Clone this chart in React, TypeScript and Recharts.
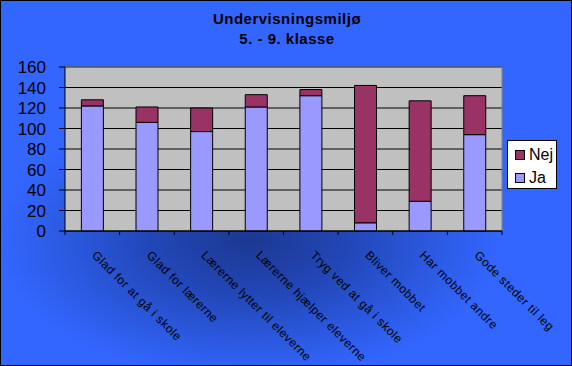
import React from 'react';
import { BarChart, Bar, XAxis, YAxis, CartesianGrid, Legend } from 'recharts';

const categories = [
  'Glad for at gå i skole',
  'Glad for lærerne',
  'Lærerne lytter til eleverne',
  'Lærerne hjælper eleverne',
  'Tryg ved at gå i skole',
  'Bliver mobbet',
  'Har mobbet andre',
  'Gode steder til leg',
];
const jaValues = [122, 106, 97, 121, 132, 8, 29, 94];
const nejValues = [6, 15, 23, 12, 6, 134, 98, 38];
const yTicks = [0, 20, 40, 60, 80, 100, 120, 140, 160];
const titleLines = ['Undervisningsmiljø', '5. - 9. klasse'];

const data = categories.map((name, i) => ({ name, ja: jaValues[i], nej: nejValues[i] }));

const W = 572;
const H = 366;
const MARGIN = { top: 67, right: 70, left: 0, bottom: 0 };
const Y_W = 65;
const X_H = H - 231;
const BAND = (W - Y_W - MARGIN.right - MARGIN.left) / categories.length;
const FONT = 'Arial, "Liberation Sans", sans-serif';

const XTick = (props: any) => {
  const { x, y, payload, index } = props;
  const left = x - BAND / 2;
  const tx = x - 1;
  const ty = y + 25;
  return (
    <g>
      <line x1={left} y1={y} x2={left} y2={y + 4} stroke="#000" />
      {index === categories.length - 1 && (
        <line x1={x + BAND / 2} y1={y} x2={x + BAND / 2} y2={y + 4} stroke="#000" />
      )}
      <text
        x={tx}
        y={ty}
        transform={`rotate(45 ${tx} ${ty})`}
        textAnchor="start"
        fontSize={12}
        letterSpacing={0.5}
        fontFamily={FONT}
        fill="#000"
      >
        {payload.value}
      </text>
    </g>
  );
};

const LegendBox = (props: any) => {
  const items = [...(props.payload || [])].reverse();
  return (
    <div
      style={{
        background: '#fff',
        border: '1px solid #000',
        width: 50,
        height: 49,
        boxSizing: 'border-box',
        paddingTop: 2,
        fontFamily: FONT,
      }}
    >
      {items.map((it: any) => (
        <div key={it.value} style={{ display: 'flex', alignItems: 'center', height: 23 }}>
          <span
            style={{
              display: 'inline-block',
              width: 8,
              height: 8,
              marginLeft: 7,
              marginRight: 4,
              background: it.color,
              border: '1px solid #000',
            }}
          />
          <span style={{ fontSize: 16, color: '#000' }}>{it.value}</span>
        </div>
      ))}
    </div>
  );
};

export default function App() {
  return (
    <div
      style={{
        position: 'absolute',
        left: 0,
        top: 0,
        width: W,
        height: H,
        background:
          'radial-gradient(ellipse 250px 140px at 250px 240px, #1d3892 0%, #2247b8 40%, #2c5ae2 75%, #3366ff 100%)',
        boxShadow: 'inset 0 0 0 1px #000',
        overflow: 'hidden',
      }}
    >
      {titleLines.map((t, i) => (
        <div
          key={t}
          style={{
            position: 'absolute',
            left: 0,
            width: 574,
            top: 9 + i * 20,
            lineHeight: '20px',
            fontSize: 15,
            letterSpacing: 0.5,
            fontWeight: 'bold',
            fontFamily: FONT,
            textAlign: 'center',
            color: '#000',
          }}
        >
          {t}
        </div>
      ))}
      <BarChart width={W} height={H} data={data} margin={MARGIN} barCategoryGap="30%">
        <CartesianGrid vertical={false} stroke="#000" fill="#C0C0C0" fillOpacity={1} />
        <CartesianGrid
          stroke="#808080"
          horizontalCoordinatesGenerator={(p: any) => [p.offset.top]}
          verticalCoordinatesGenerator={(p: any) => [p.offset.left + p.offset.width]}
        />
        <XAxis
          dataKey="name"
          height={X_H}
          interval={0}
          tickLine={false}
          tickSize={0}
          tickMargin={0}
          axisLine={{ stroke: '#000' }}
          tick={<XTick />}
        />
        <YAxis
          width={Y_W}
          domain={[0, 160]}
          ticks={yTicks}
          interval={0}
          tickSize={6}
          tickMargin={13}
          axisLine={{ stroke: '#000' }}
          tickLine={{ stroke: '#000' }}
          tick={{ fill: '#000', fontSize: 17, fontFamily: FONT }}
        />
        <Legend
          layout="vertical"
          align="center"
          verticalAlign="middle"
          content={<LegendBox />}
          wrapperStyle={{ left: 507, top: 140, width: 50, height: 49 }}
        />
        <Bar dataKey="ja" name="Ja" stackId="a" fill="#9999FF" stroke="#000" strokeWidth={1} isAnimationActive={false} />
        <Bar dataKey="nej" name="Nej" stackId="a" fill="#993366" stroke="#000" strokeWidth={1} isAnimationActive={false} />
      </BarChart>
    </div>
  );
}
